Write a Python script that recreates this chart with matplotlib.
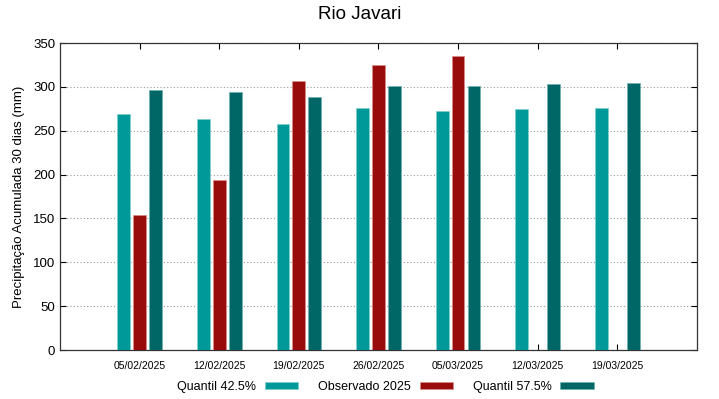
import matplotlib.pyplot as plt
import numpy as np

plt.rcParams['font.family'] = ['Liberation Sans', 'DejaVu Sans']

datas = ['05/02/2025', '12/02/2025', '19/02/2025', '26/02/2025',
         '05/03/2025', '12/03/2025', '19/03/2025']
quantil_425 = [269, 264, 258, 276, 272.5, 275, 276]
observado = [153.5, 194, 307, 324.5, 335.5, np.nan, np.nan]
quantil_575 = [297, 294, 288, 300.5, 301.5, 303, 304]

cor_q1 = '#009999'
cor_obs = '#990c0c'
cor_q2 = '#006766'

fig = plt.figure(figsize=(7.19, 3.99), dpi=100)
ax = fig.add_axes([0.0834, 0.1228, 0.886, 0.7692])

x = np.arange(1, len(datas) + 1)
w = 0.16
b1 = ax.bar(x - 0.2, quantil_425, w, color=cor_q1, edgecolor='#7fd0d0', linewidth=0.5,
            label='Quantil 42.5%', zorder=3)
b2 = ax.bar(x, observado, w, color=cor_obs, edgecolor='#e08a8a', linewidth=0.5,
            label='Observado 2025', zorder=3)
b3 = ax.bar(x + 0.2, quantil_575, w, color=cor_q2, edgecolor='#6fb0b0', linewidth=0.5,
            label='Quantil 57.5%', zorder=3)

ax.set_xlim(0, 8)
ax.set_ylim(0, 350)
ax.set_xticks(x)
ax.set_xticklabels(datas, fontsize=7.5)
ax.set_yticks(np.arange(0, 351, 50))
ax.tick_params(axis='y', labelsize=9.5)
ax.tick_params(axis='x', pad=8)
ax.tick_params(direction='in', top=True, right=True, length=4, width=0.8)
ax.yaxis.grid(True, linestyle=(0, (1, 2)), color='#999999', linewidth=0.8, zorder=0)
for s in ax.spines.values():
    s.set_linewidth(0.9)
    s.set_color('#333333')

ax.set_ylabel('Precipitação Acumulada 30 dias (mm)', fontsize=9.5, labelpad=6)
fig.suptitle('Rio Javari', fontsize=13.5, y=0.985)

fig.legend(handles=[b1, b2, b3], loc='center', bbox_to_anchor=(0.536, 0.03), ncol=3,
           frameon=False, markerfirst=False, fontsize=9, handlelength=2.65,
           handleheight=0.5, columnspacing=1.6, handletextpad=0.7)

fig.savefig('out.png', dpi=100)
